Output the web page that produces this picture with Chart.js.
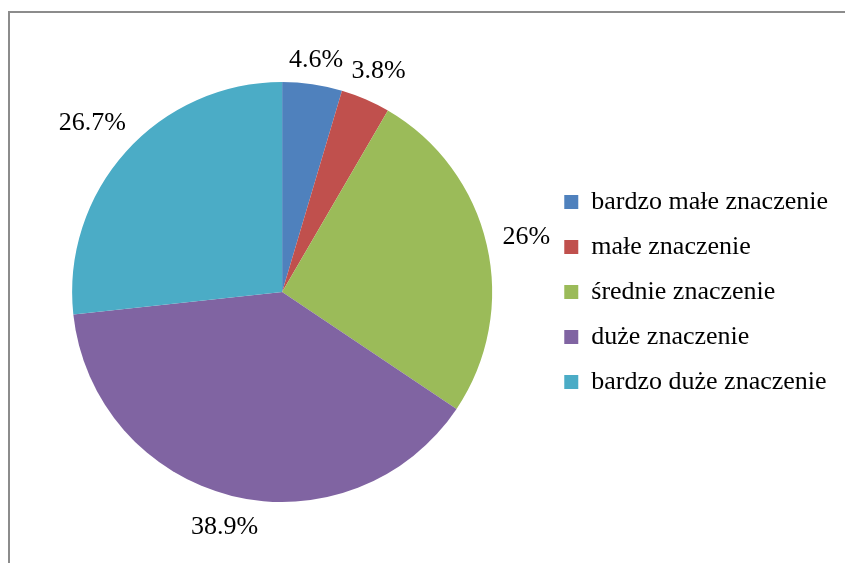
<!DOCTYPE html>
<html>
<head>
<meta charset="utf-8">
<script src="https://cdn.jsdelivr.net/npm/chart.js@4"></script>
<style>
	body { margin: 0; background: #fff; }
	#frame {
		position: absolute;
		left: 8px;
		top: 11px;
		width: 900px;
		height: 600px;
		border: 2px solid #8c8c8c;
	}
	#chart { position: absolute; left: 0; top: 0; }
</style>
</head>
<body>
<div id="frame"></div>
<canvas id="chart" width="845" height="563"></canvas>
<script>
const categories = [
	"bardzo małe znaczenie",
	"małe znaczenie",
	"średnie znaczenie",
	"duże znaczenie",
	"bardzo duże znaczenie",
];
const percentValues = [4.6, 3.8, 26, 38.9, 26.7];
const sliceColors = ["#4f81bd", "#c0504d", "#9bbb59", "#8064a2", "#4bacc6"];

const fontFamily = "'Liberation Serif', 'Times New Roman', serif";

// labels outside the slices, placed from each arc's own geometry
const outsideLabels = {
	id: "outsideLabels",
	afterDatasetsDraw(chart) {
		const ctx = chart.ctx;
		const meta = chart.getDatasetMeta(0);
		ctx.save();
		ctx.font = "26px " + fontFamily;
		ctx.fillStyle = "#000";
		ctx.textAlign = "center";
		ctx.textBaseline = "alphabetic";
		meta.data.forEach(function (arc, i) {
			const p = arc.getProps(["x", "y", "startAngle", "endAngle", "outerRadius"], true);
			const mid = (p.startAngle + p.endAngle) / 2;
			const text = percentValues[i] + "%";
			const w = ctx.measureText(text).width;
			const c = Math.cos(mid);
			const s = Math.sin(mid);
			const r = p.outerRadius + 16 + Math.abs(c) * w / 2 + Math.abs(s) * 6.5;
			// baseline sits half a digit height below the label centre
			ctx.fillText(text, p.x + c * r, p.y + s * r + 8.5);
		});
		ctx.restore();
	},
};

const config = {
	type: "pie",
	data: {
		labels: categories,
		datasets: [
			{
				data: percentValues,
				backgroundColor: sliceColors,
				borderWidth: 0,
			},
		],
	},
	options: {
		responsive: false,
		animation: false,
		layout: {
			padding: {
				left: 19,
				right: 7,
				top: 82,
				bottom: 61,
			},
		},
		plugins: {
			legend: {
				position: "right",
				labels: {
					boxWidth: 14,
					boxHeight: 14,
					padding: 19,
					color: "#000",
					font: {
						family: fontFamily,
						size: 26,
					},
				},
			},
			tooltip: { enabled: false },
		},
	},
	plugins: [outsideLabels],
};

const ctx = document.getElementById("chart").getContext("2d");
new Chart(ctx, config);
</script>
</body>
</html>
